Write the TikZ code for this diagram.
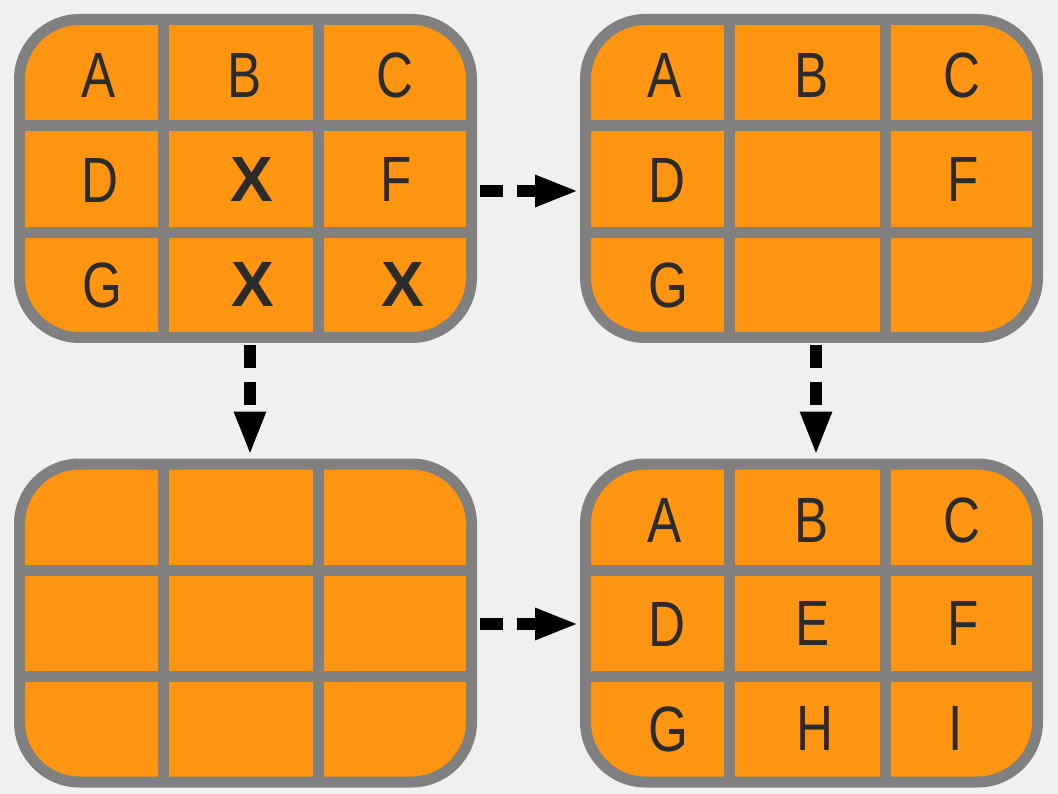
\documentclass[tikz,border=0pt]{standalone}
\usepackage{fontspec}
\setmainfont{Liberation Sans}[FakeStretch=0.8]
\newfontfamily\xfont{Liberation Sans}
\usetikzlibrary{arrows.meta}
\definecolor{bgc}{HTML}{F0F0F0}
\definecolor{boxfill}{HTML}{FF9510}
\definecolor{boxline}{HTML}{808080}
\definecolor{txt}{HTML}{2B2B2B}
\tikzset{
  box/.style={draw=boxline, fill=boxfill, line width=11pt, rounded corners=60pt,
    minimum width=452pt, minimum height=318pt, inner sep=0pt},
  gridline/.style={draw=boxline, line width=11pt},
  lbl/.style={text=txt, inner sep=0pt, font=\fontsize{64}{64}\selectfont},
  xlbl/.style={text=txt, inner sep=0pt, font=\fontsize{64}{64}\xfont\bfseries},
  arr/.style={line width=12pt, dash pattern=on 23pt off 14pt,
    -{Triangle[length=44pt,width=29pt]}},
}
\begin{document}
\begin{tikzpicture}[x=1pt,y=-1pt]
\useasboundingbox[fill=bgc] (0,0) rectangle (1058,794);
% boxes
\node[box] (tl) at (245.5,178.5) {};
\node[box] (tr) at (811.5,178.5) {};
\node[box] (bl) at (245.5,623) {};
\node[box] (br) at (811.5,623) {};
% grid lines
\foreach \bx/\cy in {tl/178.5, bl/623} {
  \draw[gridline] (163,\cy-159) -- (163,\cy+159);
  \draw[gridline] (318.5,\cy-159) -- (318.5,\cy+159);
}
\foreach \bx/\cy in {tr/178.5, br/623} {
  \draw[gridline] (729.5,\cy-159) -- (729.5,\cy+159);
  \draw[gridline] (885.5,\cy-159) -- (885.5,\cy+159);
}
\draw[gridline] (19.5,125.5) -- (471.5,125.5);
\draw[gridline] (19.5,232.5) -- (471.5,232.5);
\draw[gridline] (586.5,125.5) -- (1036.5,125.5);
\draw[gridline] (586.5,232.5) -- (1036.5,232.5);
\draw[gridline] (19.5,570) -- (471.5,570);
\draw[gridline] (19.5,676.5) -- (471.5,676.5);
\draw[gridline] (586.5,570) -- (1036.5,570);
\draw[gridline] (586.5,676.5) -- (1036.5,676.5);
% top-left labels
\node[lbl] (tlA) at (98.5,75.5) {A};
\node[lbl] (tlB) at (245,75.5) {B};
\node[lbl] (tlC) at (395,75.5) {C};
\node[lbl] (tlD) at (100,180) {D};
\node[xlbl] (tlE) at (252,179) {X};
\node[lbl] (tlF) at (396.5,179) {F};
\node[lbl] (tlG) at (102,285) {G};
\node[xlbl] (tlH) at (253,284.5) {X};
\node[xlbl] (tlI) at (403,284.5) {X};
% top-right labels
\node[lbl] (trA) at (665,75.5) {A};
\node[lbl] (trB) at (812,75.5) {B};
\node[lbl] (trC) at (962,75.5) {C};
\node[lbl] (trD) at (667,180) {D};
\node[lbl] (trF) at (963,179) {F};
\node[lbl] (trG) at (668,285) {G};
% bottom-right labels
\node[lbl] (brA) at (665,520) {A};
\node[lbl] (brB) at (812,520) {B};
\node[lbl] (brC) at (962,520) {C};
\node[lbl] (brD) at (667,624) {D};
\node[lbl] (brE) at (813,623) {E};
\node[lbl] (brF) at (963.5,623) {F};
\node[lbl] (brG) at (668,729) {G};
\node[lbl] (brH) at (815,728) {H};
\node[lbl] (brI) at (955.5,728) {I};
% arrows
\draw[arr] ([xshift=3pt,yshift=-12.5pt]tl.east) -- ([xshift=-1pt,yshift=-12.5pt]tr.west);
\draw[arr] ([xshift=3pt,yshift=-1pt]bl.east) -- ([xshift=-1pt,yshift=-1pt]br.west);
\draw[arr] ([xshift=4.5pt,yshift=-2pt]tl.south) -- ([xshift=4.5pt,yshift=3pt]bl.north);
\draw[arr] ([xshift=4.5pt,yshift=-2pt]tr.south) -- ([xshift=4.5pt,yshift=3pt]br.north);
\end{tikzpicture}
\end{document}
